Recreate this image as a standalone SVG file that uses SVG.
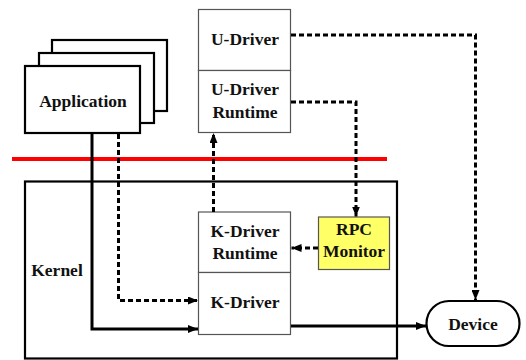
<svg xmlns="http://www.w3.org/2000/svg" width="526" height="360" viewBox="0 0 526 360">
  <defs>
    <marker id="arrow" viewBox="0 0 10 8" refX="10" refY="4" markerWidth="10" markerHeight="8" markerUnits="userSpaceOnUse" orient="auto">
      <path d="M0,0 L10,4 L0,8 Z" fill="#000"/>
    </marker>
  </defs>
  <style>
    .lbl { font-family: 'Liberation Serif', 'Times New Roman', serif; font-weight: bold; font-size: 17.5px; fill: #111; text-anchor: middle; }
    .box { fill: #fff; stroke: #555; stroke-width: 1.2; }
    .app { fill: #fff; stroke: #000; stroke-width: 2.2; }
    .mon { fill: #ffff66; stroke: #555; stroke-width: 1.2; }
    .solid { fill: none; stroke: #000; stroke-width: 3; }
    .dash { fill: none; stroke: #000; stroke-width: 3; stroke-dasharray: 5 3; }
  </style>
  <rect width="526" height="360" fill="#fff"/>

  <!-- user / kernel boundary -->
  <line x1="12" y1="159" x2="387" y2="159" stroke="#ff0000" stroke-width="4"/>

  <!-- kernel space -->
  <g id="kernel">
    <rect x="25" y="181.5" width="372" height="177" fill="none" stroke="#000" stroke-width="2.2"/>
    <text class="lbl" x="57" y="276">Kernel</text>
  </g>

  <!-- stacked application windows -->
  <g id="application">
    <rect class="app" x="52" y="40" width="115" height="71"/>
    <rect class="app" x="39" y="53" width="115" height="70"/>
    <rect class="app" x="25" y="66" width="115" height="67"/>
    <text class="lbl" x="83" y="107">Application</text>
  </g>

  <g id="u-driver">
    <rect class="box" x="198.5" y="9.5" width="92" height="61"/>
    <text class="lbl" x="245" y="45">U-Driver</text>
  </g>
  <g id="u-driver-runtime">
    <rect class="box" x="198.5" y="70.5" width="92" height="62"/>
    <text class="lbl" x="245" y="95">U-Driver</text>
    <text class="lbl" x="245" y="118">Runtime</text>
  </g>

  <g id="k-driver-runtime">
    <rect class="box" x="198.5" y="212" width="92" height="60.5"/>
    <text class="lbl" x="245" y="237">K-Driver</text>
    <text class="lbl" x="245" y="258.5">Runtime</text>
  </g>
  <g id="k-driver">
    <rect class="box" x="198.5" y="272.5" width="92" height="62"/>
    <text class="lbl" x="245" y="307.5">K-Driver</text>
  </g>

  <g id="rpc-monitor">
    <rect class="mon" x="318.5" y="217" width="71" height="52.5"/>
    <text class="lbl" x="354" y="235">RPC</text>
    <text class="lbl" x="354" y="257">Monitor</text>
  </g>

  <g id="device">
    <rect x="426.5" y="301" width="93" height="45" rx="22.5" ry="22.5" fill="#fff" stroke="#000" stroke-width="2.2"/>
    <text class="lbl" x="473" y="330">Device</text>
  </g>

  <g id="connectors">
    <path class="dash" d="M291,35 H475.5 V300" marker-end="url(#arrow)"/>
    <path class="dash" d="M291,102 H356 V216.5" marker-end="url(#arrow)"/>
    <path class="dash" d="M213.5,212 V133" marker-end="url(#arrow)"/>
    <path class="dash" d="M318,248 H291.5" marker-end="url(#arrow)"/>
    <path class="dash" d="M118.5,134 V300.5 H198" marker-end="url(#arrow)"/>
    <path class="solid" d="M92,134 V329 H198" marker-end="url(#arrow)"/>
    <path class="solid" d="M291,326 H426" marker-end="url(#arrow)"/>
  </g>
</svg>
